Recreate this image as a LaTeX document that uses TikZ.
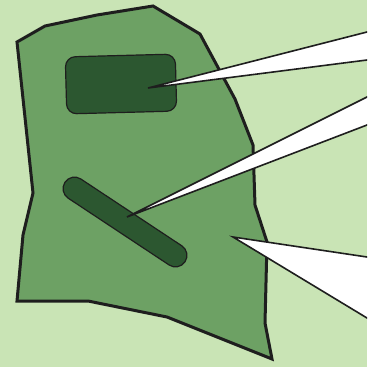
\documentclass[tikz,border=0pt]{standalone}
\usepackage{tikz}
\usepackage{xcolor}
\usetikzlibrary{
    positioning,
    calc
}
\definecolor{VerdeFundo}{HTML}{C9E4B5}
\definecolor{VerdeMedio}{HTML}{6DA164}
\definecolor{VerdeEscuro}{HTML}{2C5730}
\definecolor{Contorno}{HTML}{1E1E1E}

\begin{document}
\begin{tikzpicture}[
        x=1pt, y=-1pt,
        contorno/.style={draw=Contorno, line width=3pt, line join=miter},
        peca/.style={fill=VerdeEscuro, draw=Contorno, line width=1.2pt, inner sep=0pt},
        balao/.style={draw=Contorno, line width=1.6pt, line join=miter}
    ]
    \clip (0,0) rectangle (367,367);
    \fill[VerdeFundo] (0,0) rectangle (367,367);

    % contorno da área
    \filldraw[contorno, fill=VerdeMedio]
        (17,42) -- (45,26) -- (97,15) -- (153,6) -- (200,34) -- (235,99)
        -- (253,145) -- (255,205) -- (267,242) -- (265,323) -- (272,359)
        -- (167,317) -- (88,301) -- (17,301) -- (23,235) -- (33,193) -- cycle;

    % peças internas
    \node[peca, rounded corners=10pt, rotate=1.5,
          minimum width=110pt, minimum height=57pt] (bloco) at (121,84) {};
    \node[peca, rounded corners=11.5pt, rotate=-33.5,
          minimum width=144pt, minimum height=23pt] (barra) at (125,222) {};

    % pontas dos balões
    \coordinate (pontaA) at (148,88);
    \coordinate (pontaB) at (127,217);
    \coordinate (pontaC) at (233,237);
    \coordinate (A1) at (367,32);  \coordinate (A2) at (367,60);
    \coordinate (B1) at (367,97);  \coordinate (B2) at (367,125);
    \coordinate (C1) at (367,257); \coordinate (C2) at (367,318);

    \foreach \p/\u/\v in {pontaA/A1/A2, pontaB/B1/B2, pontaC/C1/C2}{
        \fill[white] (\p) -- ($(\p)!1.05!(\u)$) -- ($(\p)!1.05!(\v)$) -- cycle;
        \draw[balao] ($(\p)!1.05!(\u)$) -- (\p) -- ($(\p)!1.05!(\v)$);
    }
\end{tikzpicture}
\end{document}
